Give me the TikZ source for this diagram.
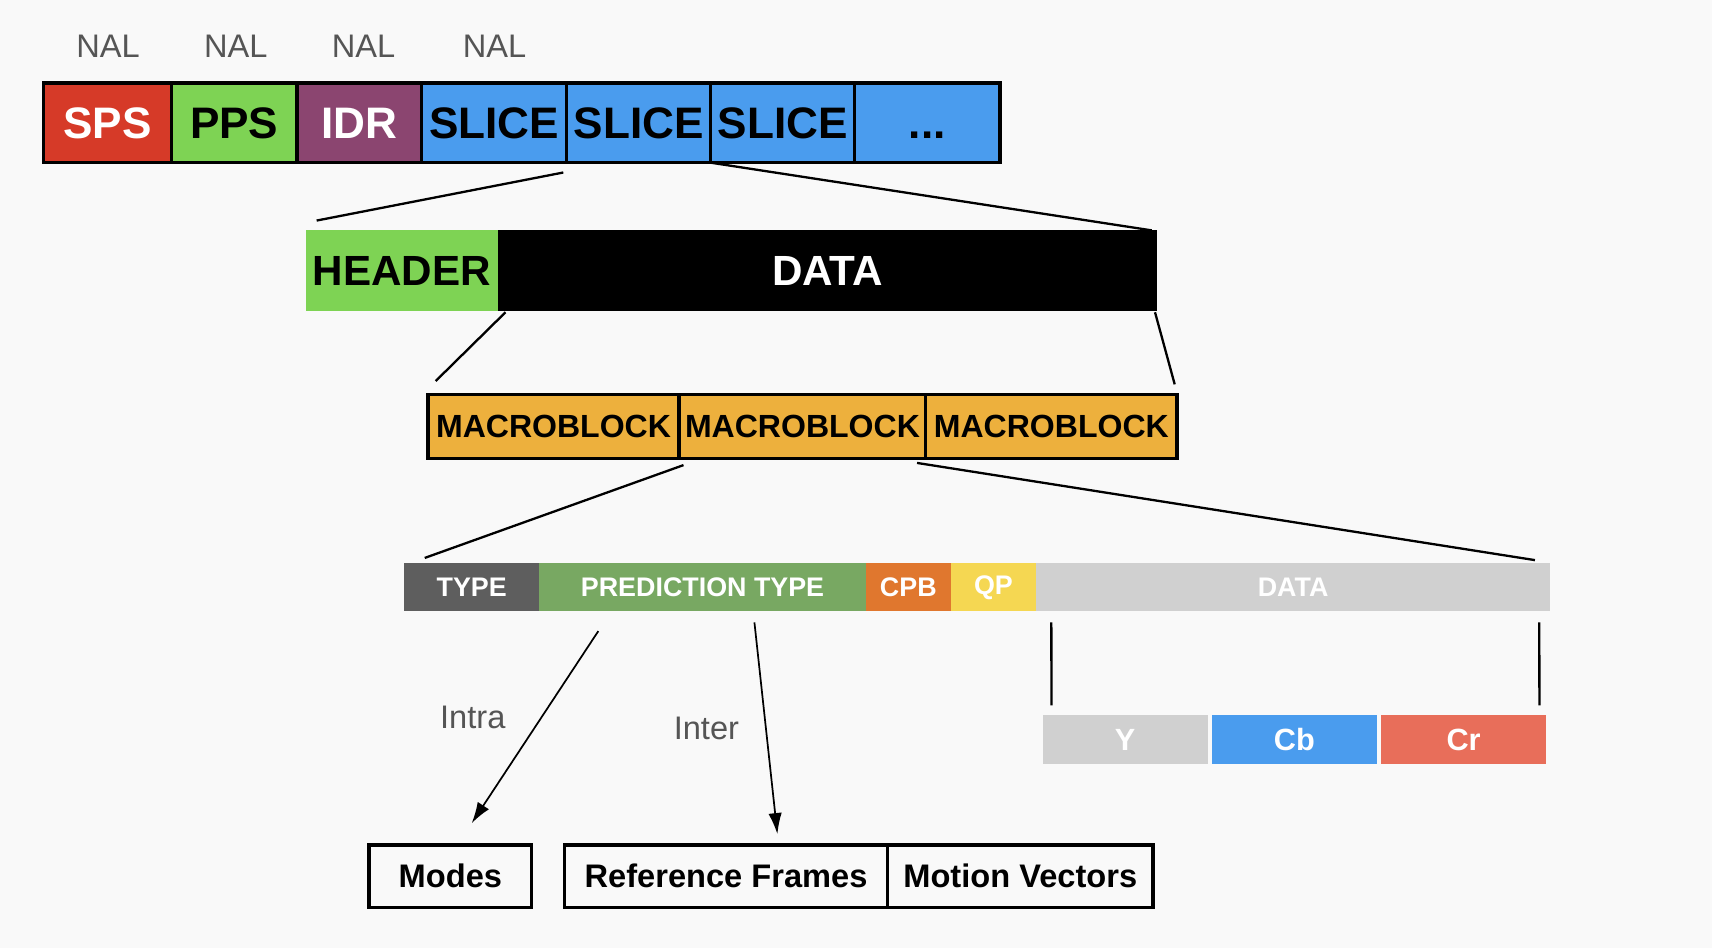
\documentclass[tikz,border=0pt]{standalone}
\usepackage{fontspec}
\setmainfont{Liberation Sans}
\usetikzlibrary{positioning,calc,arrows.meta}
\definecolor{bgcol}{HTML}{F9F9F9}
\definecolor{spsred}{HTML}{D63A28}
\definecolor{ppsgreen}{HTML}{7ED354}
\definecolor{idrpurple}{HTML}{8B4570}
\definecolor{sliceblue}{HTML}{4A9CEE}
\definecolor{mborange}{HTML}{EDB03D}
\definecolor{typegray}{HTML}{5E5E5E}
\definecolor{predgreen}{HTML}{78A862}
\definecolor{cpborange}{HTML}{E0772E}
\definecolor{qpyellow}{HTML}{F5D752}
\definecolor{datagray}{HTML}{D0D0D0}
\definecolor{crred}{HTML}{E86E5A}
\definecolor{labelgray}{HTML}{555555}
\tikzset{
  nalbox/.style={draw=black,line width=1.7pt,minimum height=1.46cm,inner sep=0pt,outer sep=0pt,
    text height=16.6pt,text depth=0pt,font=\fontsize{23}{26}\selectfont\bfseries},
  slicebox/.style={minimum height=1.48cm,inner sep=0pt,outer sep=0pt,font=\fontsize{22}{25}\selectfont\bfseries},
  mbbox/.style={draw=black,line width=1.7pt,fill=mborange,minimum width=4.56cm,minimum height=1.18cm,
    inner sep=0pt,outer sep=0pt,font=\fontsize{16.7}{19}\selectfont\bfseries},
  fieldbox/.style={minimum height=0.88cm,inner sep=0pt,outer sep=0pt,text=white,font=\fontsize{14}{16}\selectfont\bfseries},
  compbox/.style={minimum width=3.02cm,minimum height=0.9cm,inner sep=0pt,outer sep=0pt,text=white,
    font=\fontsize{16}{18}\selectfont\bfseries},
  predbox/.style={draw=black,line width=1.7pt,minimum height=1.14cm,inner sep=0pt,outer sep=0pt,
    font=\fontsize{17}{20}\selectfont\bfseries},
  nallabel/.style={text=labelgray,font=\fontsize{17}{20}\selectfont},
  zoomline/.style={line width=1.2pt},
  predarrow/.style={line width=0.9pt,-{Latex[length=11pt,width=7pt]}},
}
\begin{document}
\begin{tikzpicture}[x=0.02cm,y=-0.02cm]
  \fill[bgcol] (0,0) rectangle (1568,868);
  \useasboundingbox (0,0) rectangle (1568,868);
  % NAL units
  \foreach \x [count=\i] in {99,216,333,453}
    \node[nallabel] (nal\i) at (\x,42) {NAL};
  \node[nalbox,fill=spsred,text=white,minimum width=2.34cm] (sps) at (98.5,112.5) {SPS};
  \node[nalbox,fill=ppsgreen,minimum width=2.30cm,right=0pt of sps] (pps) {PPS};
  \node[nalbox,fill=idrpurple,text=white,minimum width=2.28cm,right=0pt of pps] (idr) {IDR};
  \node[nalbox,fill=sliceblue,minimum width=2.66cm,right=0pt of idr] (s1) {SLICE};
  \node[nalbox,fill=sliceblue,minimum width=2.64cm,right=0pt of s1] (s2) {SLICE};
  \node[nalbox,fill=sliceblue,minimum width=2.64cm,right=0pt of s2] (s3) {SLICE};
  \node[nalbox,fill=sliceblue,minimum width=2.66cm,right=0pt of s3] (more) {...};
  % slice
  \node[slicebox,fill=ppsgreen,minimum width=3.52cm] (hdr) at (368,248) {HEADER};
  \node[slicebox,fill=black,text=white,minimum width=12.08cm,right=0pt of hdr] (sdata) {DATA};
  \draw[zoomline] ($(s2.south west)+(-3,9)$) -- ($(hdr.north west)+(10,-9)$);
  \draw[zoomline] (s3.south west) -- ($(sdata.north east)+(-5,0)$);
  % macroblocks
  \node[mbbox,minimum width=4.6cm] (mb1) at (507,390.5) {MACROBLOCK};
  \node[mbbox,minimum width=4.52cm,right=0pt of mb1] (mb2) {MACROBLOCK};
  \node[mbbox,minimum width=4.6cm,right=0pt of mb2] (mb3) {MACROBLOCK};
  \draw[zoomline] ($(sdata.south west)+(7,1)$) -- ($(mb1.north west)+(7,-12)$);
  \draw[zoomline] ($(sdata.south east)+(-2,1)$) -- ($(mb3.north east)+(-2,-9)$);
  % macroblock fields
  \node[fieldbox,fill=typegray,minimum width=2.48cm] (mtype) at (432,538) {TYPE};
  \node[fieldbox,fill=predgreen,minimum width=5.98cm,right=0pt of mtype] (pred) {PREDICTION TYPE};
  \node[fieldbox,fill=cpborange,minimum width=1.56cm,right=0pt of pred] (cpb) {CPB};
  \node[fieldbox,fill=qpyellow,minimum width=1.56cm,right=0pt of cpb] (qp) {QP};
  \node[fieldbox,fill=datagray,minimum width=9.42cm,right=0pt of qp] (mdata) {DATA};
  \draw[zoomline] ($(mb2.south west)+(4,6)$) -- ($(mtype.north west)+(19,-5)$);
  \draw[zoomline] ($(mb3.south west)+(-8,4)$) -- ($(mdata.north east)+(-14,-3)$);
  % components
  \node[compbox,fill=datagray] (cy) at (1030.5,677.5) {Y};
  \node[compbox,fill=sliceblue,right=0.08cm of cy] (cb) {Cb};
  \node[compbox,fill=crred,right=0.08cm of cb] (cr) {Cr};
  \draw[zoomline] ($(mdata.south west)+(14,10)$) -- ($(cy.north west)+(8,-9)$);
  \draw[zoomline] ($(mdata.south east)+(-10,10)$) -- ($(cr.north east)+(-6,-9)$);
  % prediction
  \node[predbox,minimum width=2.98cm] (modes) at (412.5,802.5) {Modes};
  \node[predbox,minimum width=5.92cm] (ref) at (665,802.5) {Reference Frames};
  \node[predbox,minimum width=4.86cm,right=0pt of ref] (mv) {Motion Vectors};
  \node[nallabel] (intra) at (433,657) {Intra};
  \node[nallabel] (inter) at (647,667) {Inter};
  \draw[predarrow] ($(pred.south west)+(54,18)$) -- ($(modes.north)+(19.5,-20)$);
  \draw[predarrow] ($(pred.south)+(47.5,10)$) -- ($(ref.north)+(47,-10)$);
\end{tikzpicture}
\end{document}
